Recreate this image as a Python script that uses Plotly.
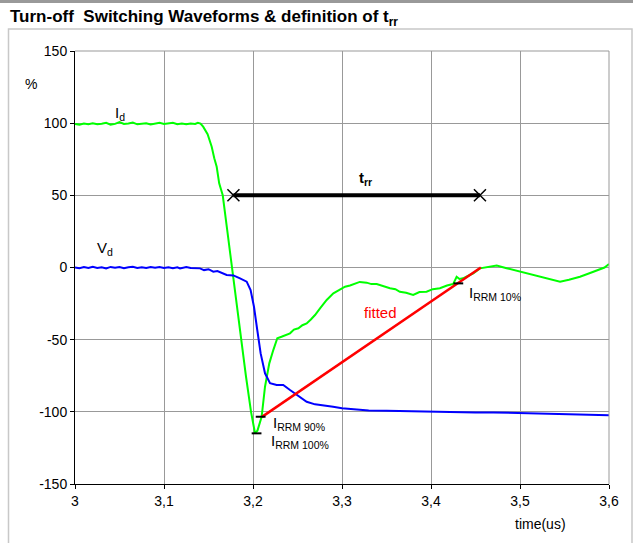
import plotly.graph_objects as go

# ---- waveform data (time in us, level in %) ----
id_t = [3.000, 3.005, 3.010, 3.015, 3.020, 3.025, 3.030, 3.035, 3.040, 3.045,
        3.050, 3.055, 3.060, 3.065, 3.070, 3.075, 3.080, 3.085, 3.090, 3.095,
        3.100, 3.105, 3.110, 3.115, 3.120, 3.125, 3.130, 3.135, 3.138, 3.141,
        3.144, 3.149, 3.1536, 3.1565, 3.1592, 3.162, 3.166, 3.171, 3.1764, 3.1815,
        3.1865, 3.192, 3.1978, 3.2005, 3.2022, 3.205, 3.2097, 3.2135, 3.2183, 3.2228,
        3.2273, 3.232, 3.2365, 3.2416, 3.246, 3.251, 3.2555, 3.2603, 3.265, 3.2697,
        3.2753, 3.2828, 3.2903, 3.2978, 3.3034, 3.309, 3.3146, 3.320, 3.3277, 3.333,
        3.339, 3.346, 3.3539, 3.360, 3.365, 3.372, 3.380, 3.387, 3.395, 3.402,
        3.410, 3.418, 3.425, 3.4288, 3.432, 3.436, 3.442, 3.4475, 3.455, 3.4738,
        3.485, 3.496, 3.507, 3.5187, 3.530, 3.545, 3.555, 3.5674, 3.578, 3.586,
        3.595, 3.600]
id_v = [99.5, 99.0, 99.8, 99.2, 100.0, 99.3, 99.6, 100.3, 99.0, 99.5,
        100.8, 99.4, 99.7, 100.4, 99.2, 99.6, 99.9, 99.1, 99.8, 100.2,
        99.4, 99.8, 100.3, 99.3, 99.7, 99.2, 99.8, 99.5, 100.3, 99.7,
        97.6, 92.3, 83.7, 75.7, 69.8, 58.3, 50.0, 26.0, 0.0, -25.0,
        -50.0, -75.0, -100.0, -110.0, -114.7, -113.0, -103.4, -82.6, -66.4, -57.2,
        -49.0, -48.0, -47.0, -45.6, -43.0, -42.1, -40.0, -38.7, -36.0, -32.9,
        -28.3, -22.5, -17.9, -15.6, -13.3, -12.5, -11.4, -10.0, -10.5, -11.5,
        -11.4, -13.0, -14.4, -15.0, -16.8, -17.5, -19.0, -17.0, -16.8, -15.0,
        -14.4, -12.5, -11.4, -6.4, -8.0, -7.5, -5.5, -4.0, -0.6, 1.3,
        -0.5, -2.2, -3.5, -5.2, -7.0, -9.8, -8.5, -6.4, -4.0, -2.2,
        0.0, 2.4]

vd_t = [3.000, 3.005, 3.010, 3.015, 3.020, 3.025, 3.030, 3.035, 3.040, 3.045,
        3.050, 3.055, 3.060, 3.065, 3.070, 3.075, 3.080, 3.085, 3.090, 3.095,
        3.100, 3.105, 3.110, 3.115, 3.118, 3.125, 3.130, 3.1404, 3.145, 3.150,
        3.1554, 3.160, 3.1704, 3.178, 3.1854, 3.1929, 3.1973, 3.2011, 3.2048, 3.2086,
        3.2135, 3.2191, 3.2266, 3.234, 3.2416, 3.249, 3.2603, 3.2697, 3.280, 3.290,
        3.300, 3.310, 3.320, 3.330, 3.350, 3.370, 3.390, 3.410, 3.430, 3.450,
        3.470, 3.500, 3.520, 3.550, 3.570, 3.600]
vd_v = [0.0, -0.5, 0.3, -0.4, 0.5, -0.3, 0.2, -0.6, 0.4, -0.2,
        0.3, -0.5, 0.2, 0.5, -0.3, 0.1, -0.4, 0.3, -0.2, 0.4,
        -0.3, 0.2, -0.5, 0.1, -0.6, 0.3, -0.4, -0.6, -1.8, -1.2,
        -2.9, -2.5, -5.2, -5.5, -7.5, -9.8, -15.6, -27.2, -43.3, -59.5,
        -73.3, -80.2, -81.4, -81.4, -84.9, -88.3, -93.0, -94.8, -95.5, -96.5,
        -97.5, -98.0, -98.5, -99.0, -99.2, -99.5, -99.8, -99.6, -100.2, -100.5,
        -100.4, -100.8, -101.2, -101.5, -101.8, -102.3]

# linear fit of the reverse-recovery tail
fit_t = [3.2101, 3.456]
fit_v = [-103.5, 0.0]

# reverse-recovery reference points (100 %, 90 %, 10 % of I_RRM)
irrm_t = [3.204, 3.2086, 3.4307]
irrm_v = [-114.9, -103.4, -11.0]

# trr span
trr_t = [3.178, 3.455]
trr_v = [50.0, 50.0]

x_ticks = [3.0, 3.1, 3.2, 3.3, 3.4, 3.5, 3.6]
x_tick_text = ["3", "3,1", "3,2", "3,3", "3,4", "3,5", "3,6"]
y_ticks = [-150, -100, -50, 0, 50, 100, 150]
y_tick_text = ["-150", "-100", "-50", "0", "50", "100", "150"]

FONT = "Liberation Sans, Arial, sans-serif"

# pixel -> paper helpers for frame decorations (plot area 75..609 x 51..484)
L, R, T, B = 75, 609, 51, 484
def px(x):
    return (x - L) / (R - L)
def py(y):
    return (B - y) / (B - T)

fig = go.Figure()

fig.add_trace(go.Scatter(x=id_t, y=id_v, mode="lines",
                         line=dict(color="#00ff00", width=2), showlegend=False))
fig.add_trace(go.Scatter(x=vd_t, y=vd_v, mode="lines",
                         line=dict(color="#0000ff", width=2), showlegend=False))
fig.add_trace(go.Scatter(x=fit_t, y=fit_v, mode="lines",
                         line=dict(color="#ff0000", width=2.5), showlegend=False))
fig.add_trace(go.Scatter(x=irrm_t, y=irrm_v, mode="markers",
                         marker=dict(symbol="line-ew", size=7,
                                     line=dict(color="black", width=2)),
                         showlegend=False))
fig.add_trace(go.Scatter(x=trr_t, y=trr_v, mode="lines+markers",
                         line=dict(color="black", width=4),
                         marker=dict(symbol="x-thin", size=12,
                                     line=dict(color="black", width=1.5)),
                         showlegend=False))

shapes = [
    # gray strip above the title
    dict(type="rect", xref="paper", yref="paper", x0=px(0), x1=px(633),
         y0=py(3), y1=py(0), fillcolor="#999999", line=dict(width=0), layer="above"),
    # outer chart frame
    dict(type="rect", xref="paper", yref="paper", x0=px(8.5), x1=px(632),
         y0=py(560), y1=py(29), line=dict(color="#c8c8c8", width=1.5)),
    # plot area border, top and right
    dict(type="line", xref="paper", yref="paper", x0=0, x1=1, y0=1, y1=1,
         line=dict(color="#999999", width=1)),
    dict(type="line", xref="paper", yref="paper", x0=1, x1=1, y0=0, y1=1,
         line=dict(color="#999999", width=1)),
]

ann = [
    dict(x=px(8), y=py(18), xref="paper", yref="paper", xanchor="left", yanchor="middle",
         text="<b>Turn-off  Switching Waveforms &amp; definition of t<sub>rr</sub></b>",
         font=dict(size=17, color="black", family=FONT), showarrow=False),
    dict(x=px(31), y=py(84), xref="paper", yref="paper", xanchor="center", yanchor="middle",
         text="%", font=dict(size=14, color="black", family=FONT), showarrow=False),
    dict(x=px(540), y=py(524), xref="paper", yref="paper", xanchor="center", yanchor="middle",
         text="time(us)", font=dict(size=14, color="black", family=FONT), showarrow=False),
    dict(x=3.0427, y=107, xanchor="left", yanchor="middle", text="I<sub>d</sub>",
         font=dict(size=15, color="black", family=FONT), showarrow=False),
    dict(x=3.0225, y=13, xanchor="left", yanchor="middle", text="V<sub>d</sub>",
         font=dict(size=15, color="black", family=FONT), showarrow=False),
    dict(x=3.3427, y=-31.5, xanchor="center", yanchor="middle", text="fitted",
         font=dict(size=15, color="#ff0000", family=FONT), showarrow=False),
    dict(x=3.326, y=62, xanchor="center", yanchor="middle", text="<b>t<sub>rr</sub></b>",
         font=dict(size=15, color="black", family=FONT), showarrow=False),
    dict(x=3.2202, y=-108, xanchor="left", yanchor="middle", text="I<sub>RRM 90%</sub>",
         font=dict(size=15, color="black", family=FONT), showarrow=False),
    dict(x=3.218, y=-120.5, xanchor="left", yanchor="middle", text="I<sub>RRM 100%</sub>",
         font=dict(size=15, color="black", family=FONT), showarrow=False),
    dict(x=3.4404, y=-18, xanchor="left", yanchor="middle", text="I<sub>RRM 10%</sub>",
         font=dict(size=15, color="black", family=FONT), showarrow=False),
]

fig.update_layout(
    width=643, height=543,
    margin=dict(l=L, r=643 - R, t=T, b=543 - B, pad=0),
    paper_bgcolor="white", plot_bgcolor="white",
    font=dict(family=FONT, size=14, color="black"),
    shapes=shapes, annotations=ann,
    xaxis=dict(range=[3.0, 3.6], tickvals=x_ticks, ticktext=x_tick_text,
               showgrid=True, gridcolor="#999999", gridwidth=1,
               showline=True, linecolor="black", linewidth=1,
               ticks="outside", ticklen=4, tickcolor="black",
               zeroline=False, tickfont=dict(size=14)),
    yaxis=dict(range=[-150, 150], tickvals=y_ticks, ticktext=y_tick_text,
               showgrid=True, gridcolor="#999999", gridwidth=1,
               showline=True, linecolor="black", linewidth=1,
               ticks="outside", ticklen=4, tickcolor="black",
               zeroline=False, tickfont=dict(size=14)),
)

fig.write_html("out.html")
